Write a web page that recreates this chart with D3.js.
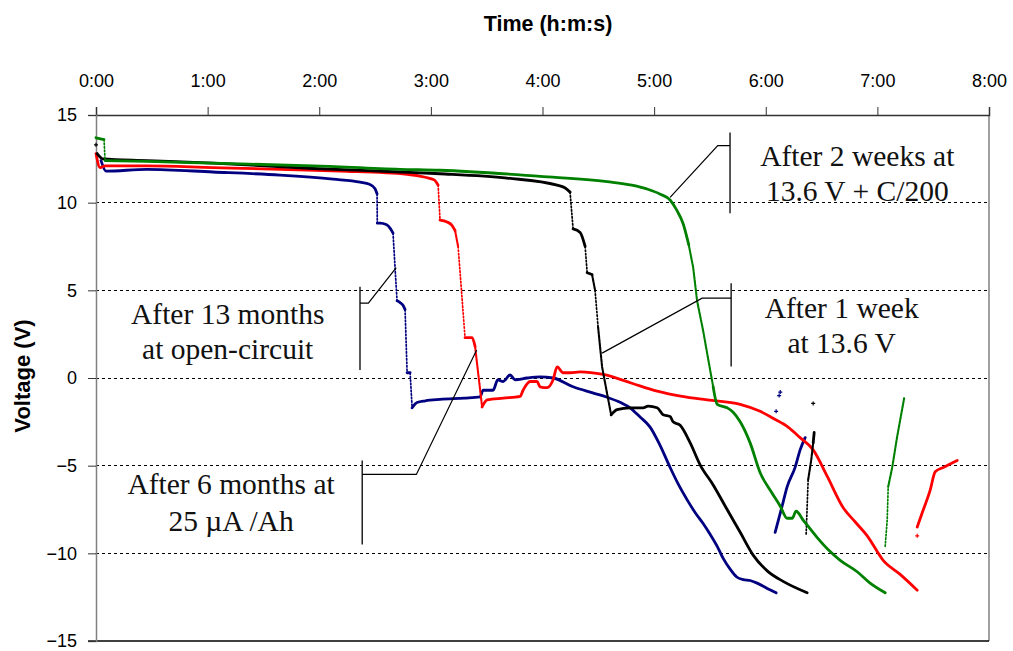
<!DOCTYPE html>
<html><head><meta charset="utf-8">
<script src="https://cdn.jsdelivr.net/npm/d3@7"></script>
<style>body{margin:0;background:#fff}svg{display:block}</style>
</head><body>
<script>
// ---- data (time in hours, voltage in V) ----
const xTicks = [0,1,2,3,4,5,6,7,8];
const xTickLabels = ["0:00","1:00","2:00","3:00","4:00","5:00","6:00","7:00","8:00"];
const yTicks = [-15,-10,-5,0,5,10,15];
const gridValues = [10,5,0,-5,-10];

const blueMain = [[0.045,12.4],[0.09,11.8],[0.457,11.9],[1.048,11.75],[1.649,11.57],[2.124,11.34],[2.366,11.17],[2.45,11.05],[2.5,10.8],[2.518,10.5],[2.52,8.83],[2.545,8.83],[2.6,8.75],[2.634,8.55],[2.661,8.26],[2.679,6.3],[2.697,4.4],[2.724,4.3],[2.75,4.15],[2.769,3.9],[2.787,0.3],[2.814,0.3],[2.832,-1.7],[2.876,-1.4],[2.95,-1.3],[3.082,-1.22],[3.3,-1.15],[3.441,-1.08],[3.468,-0.7],[3.557,-0.7],[3.6,-0.1],[3.647,-0.2],[3.71,0.17],[3.754,-0.1],[3.862,0],[3.978,0.06],[4.095,0.0],[4.274,-0.5],[4.45,-0.85],[4.579,-1.1],[4.7,-1.4],[4.785,-1.7],[4.87,-2.2],[4.964,-2.8],[5.05,-3.8],[5.143,-5.1],[5.22,-6.1],[5.296,-6.95],[5.37,-7.7],[5.439,-8.3],[5.5,-8.9],[5.565,-9.6],[5.62,-10.3],[5.681,-10.9],[5.74,-11.35],[5.798,-11.5],[5.86,-11.55],[5.923,-11.7],[6.013,-12.0],[6.093,-12.25]];
const blueTail = [[6.084,-8.8],[6.147,-7.3],[6.192,-6.2],[6.263,-5.1],[6.308,-4.1],[6.353,-3.4]];
const bluePoints = [[6.12,-1.0],[6.13,-0.8],[6.093,-1.9]];

const redMain = [[0,12.8],[0.036,12.0],[0.081,12.1],[0.457,12.1],[1.048,12.0],[1.649,11.9],[2.186,11.8],[2.787,11.62],[2.95,11.45],[3.03,11.3],[3.065,11.0],[3.082,9.0],[3.145,8.9],[3.19,8.7],[3.217,8.4],[3.244,7.5],[3.306,2.3],[3.369,2.3],[3.396,1.8],[3.459,-1.65],[3.504,-1.25],[3.65,-1.15],[3.799,-1.05],[3.826,-0.7],[3.889,-0.2],[3.952,-0.2],[3.978,-0.5],[4.041,-0.55],[4.095,-0.1],[4.131,0.63],[4.185,0.3],[4.247,0.3],[4.337,0.35],[4.543,0.2],[4.8,-0.3],[5.027,-0.75],[5.25,-1.05],[5.475,-1.25],[5.771,-1.5],[5.95,-1.9],[6.066,-2.3],[6.2,-2.8],[6.308,-3.4],[6.425,-4.1],[6.55,-5.6],[6.694,-7.4],[6.8,-8.2],[6.909,-9.0],[7.052,-10.4],[7.204,-11.2],[7.357,-12.1]];
const redTail = [[7.357,-8.5],[7.401,-7.7],[7.473,-6.4],[7.518,-5.35],[7.59,-5.1],[7.715,-4.7]];
const redPoints = [[7.357,-9.0]];

const blackMain = [[0.01,12.8],[0.063,12.5],[0.457,12.4],[1.048,12.25],[1.944,11.95],[2.724,11.75],[3.082,11.65],[3.683,11.4],[4.131,11.0],[4.2,10.85],[4.247,10.6],[4.274,8.5],[4.337,8.3],[4.382,7.5],[4.4,6.0],[4.444,5.9],[4.471,5.0],[4.498,2.9],[4.534,0.63],[4.579,-0.9],[4.615,-2.1],[4.668,-1.8],[4.785,-1.7],[4.901,-1.7],[4.946,-1.6],[5.027,-1.7],[5.081,-2.1],[5.143,-2.2],[5.17,-2.5],[5.233,-2.7],[5.323,-3.7],[5.412,-4.95],[5.529,-6.1],[5.654,-7.5],[5.771,-8.8],[5.887,-10.1],[6.013,-11.0],[6.156,-11.6],[6.371,-12.25]];
const blackTail = [[6.362,-8.9],[6.371,-7.3],[6.38,-5.8],[6.407,-4.7],[6.425,-3.7],[6.434,-3.1]];
const blackPoints = [[0,13.3],[6.425,-1.45]];

const greenMain = [[0,13.7],[0.072,13.6],[0.081,12.4],[0.457,12.35],[1.048,12.25],[1.944,12.1],[2.724,11.9],[3.082,11.85],[3.978,11.5],[4.579,11.2],[4.8,11.0],[4.95,10.75],[5.05,10.5],[5.143,10.15],[5.2,9.6],[5.26,8.8],[5.31,7.6],[5.35,6.3],[5.385,4.4],[5.439,2.7],[5.502,0.45],[5.529,-0.5],[5.565,-1.5],[5.654,-1.7],[5.708,-1.95],[5.771,-2.5],[5.86,-3.7],[5.95,-5.4],[6.05,-6.5],[6.129,-7.3],[6.192,-8.0],[6.237,-8.0],[6.272,-7.6],[6.335,-8.1],[6.461,-9.1],[6.577,-9.9],[6.667,-10.4],[6.819,-11.05],[6.935,-11.7],[7.07,-12.25]];
const greenTail = [[7.07,-9.6],[7.088,-8.1],[7.097,-6.2],[7.133,-5.1],[7.177,-3.35],[7.24,-1.15]];
const greenPoints = [];

const series = [
  {name:"After 13 months at open-circuit", color:"#000080", parts:[blueMain, blueTail], points:bluePoints},
  {name:"After 6 months at 25 µA/Ah", color:"#ff0000", parts:[redMain, redTail], points:redPoints},
  {name:"After 1 week at 13.6 V", color:"#000000", parts:[blackMain, blackTail], points:blackPoints},
  {name:"After 2 weeks at 13.6 V + C/200", color:"#008000", parts:[greenMain, greenTail], points:greenPoints}
];

// annotations: [time, volt] coordinates of bracket and leader
const annotations = [
  {lines:["After 2 weeks at","13.6 V + C/200"], tx:6.82, ty:[12.07,10.08],
   bar:[5.68,[14.0,9.4]], leader:[[5.68,13.25],[5.57,13.25],[5.143,10.3]]},
  {lines:["After 1 week","at 13.6 V"], tx:6.68, ty:[3.4,1.4],
   bar:[5.69,[5.4,0.65]], leader:[[5.69,4.55],[5.43,4.55],[4.534,1.42]]},
  {lines:["After 13 months","at open-circuit"], tx:1.18, ty:[3.1,1.1],
   bar:[2.365,[5.2,0.45]], leader:[[2.365,4.27],[2.44,4.27],[2.69,6.3]]},
  {lines:["After 6 months at","25 µA /Ah"], tx:1.21, ty:[-6.6,-8.75],
   bar:[2.385,[-4.7,-9.5]], leader:[[2.385,-5.5],[2.87,-5.5],[3.41,1.6]]}
];

// ---- layout ----
const W = 1013, H = 651;
const x = d3.scaleLinear().domain([0,8]).range([96,989]);
const y = d3.scaleLinear().domain([-15,15]).range([641,115]);

const svg = d3.select("body").append("svg").attr("width",W).attr("height",H);

// grid
svg.append("g").selectAll("line").data(gridValues).join("line")
  .attr("x1",x(0)).attr("x2",x(8)).attr("y1",d=>y(d)).attr("y2",d=>y(d))
  .attr("stroke","#000").attr("stroke-width",1).attr("stroke-dasharray","3,3")
  .attr("shape-rendering","crispEdges");

// right border
svg.append("line").attr("x1",x(8)).attr("x2",x(8)).attr("y1",y(15)).attr("y2",y(-15))
  .attr("stroke","#808080").attr("stroke-width",1.5);
// bottom line
svg.append("line").attr("x1",x(0)-8).attr("x2",x(8)).attr("y1",y(-15)).attr("y2",y(-15))
  .attr("stroke","#000").attr("stroke-width",1.5);

// axes
const xAxis = svg.append("g").attr("transform",`translate(0,${y(15)})`)
  .call(d3.axisTop(x).tickValues(xTicks).tickFormat((d,i)=>xTickLabels[i]).tickSize(8).tickPadding(20));
xAxis.select(".domain").attr("stroke","#333").attr("stroke-width",1.5);
xAxis.selectAll(".tick line").attr("stroke","#333");
xAxis.selectAll("text").attr("font-family","Liberation Sans, Arial, sans-serif").attr("font-size",18).attr("fill","#000");

const yAxis = svg.append("g").attr("transform",`translate(${x(0)},0)`)
  .call(d3.axisLeft(y).tickValues(yTicks).tickSize(8).tickPadding(11).tickFormat(d3.format("d")));
yAxis.select(".domain").attr("stroke","#808080").attr("stroke-width",1.5);
yAxis.selectAll(".tick line").attr("stroke","#333");
yAxis.selectAll("text").attr("font-family","Liberation Sans, Arial, sans-serif").attr("font-size",18).attr("fill","#000");

// titles
svg.append("text").attr("x",548).attr("y",31).attr("text-anchor","middle")
  .attr("font-family","Liberation Sans, Arial, sans-serif").attr("font-weight","bold").attr("font-size",21.5)
  .text("Time (h:m:s)");
svg.append("text").attr("transform",`translate(30,${y(0)-2}) rotate(-90)`).attr("text-anchor","middle")
  .attr("font-family","Liberation Sans, Arial, sans-serif").attr("font-weight","bold").attr("font-size",22)
  .text("Voltage (V)");

// series
const lineSmooth = d3.line().x(d=>x(d[0])).y(d=>y(d[1])).curve(d3.curveMonotoneX);
const lineStraight = d3.line().x(d=>x(d[0])).y(d=>y(d[1]));
series.forEach(s=>{
  const g = svg.append("g");
  s.parts.forEach(p=>{
    // group consecutive segments into runs by steepness:
    // 0 = normal, 1 = steep (dense markers, thinner), 2 = very steep (sparse markers, dotted)
    const runs = [];
    for(let i=0;i<p.length-1;i++){
      const a=p[i], b=p[i+1];
      const dx=Math.abs(x(b[0])-x(a[0])), dy=Math.abs(y(b[1])-y(a[1]));
      const r = dy/Math.max(dx,0.1);
      const kind = (dy > 14 && r > 10) ? 2 : (dy > 14 && r > 4.5) ? 1 : 0;
      const last = runs[runs.length-1];
      if(last && last.kind===kind){ last.pts.push(b); }
      else runs.push({kind, pts:[a,b]});
    }
    runs.forEach(r=>{
      g.append("path").attr("d",(r.kind?lineStraight:lineSmooth)(r.pts)).attr("fill","none")
        .attr("stroke",s.color).attr("stroke-linecap","round").attr("stroke-linejoin","round")
        .attr("stroke-width",r.kind===2?1.7:(r.kind===1?2.1:2.8))
        .attr("stroke-dasharray",r.kind===2?"1.5,2":(r.kind===1?"3,1":null));
    });
  });
  g.selectAll("path.pt").data(s.points).join("path").attr("class","pt")
    .attr("d",d=>`M${x(d[0])-2},${y(d[1])}h4M${x(d[0])},${y(d[1])-2}v4`)
    .attr("stroke",s.color).attr("stroke-width",1.2);
});

// annotations
annotations.forEach(a=>{
  const g = svg.append("g");
  g.append("line").attr("x1",x(a.bar[0])).attr("x2",x(a.bar[0]))
    .attr("y1",y(a.bar[1][0])).attr("y2",y(a.bar[1][1]))
    .attr("stroke","#222").attr("stroke-width",1.5);
  g.append("path").attr("d",lineStraight(a.leader)).attr("fill","none").attr("stroke","#000").attr("stroke-width",1.2);
  a.lines.forEach((t,i)=>{
    g.append("text").attr("x",x(a.tx)).attr("y",y(a.ty[i])).attr("text-anchor","middle")
      .attr("font-family","Liberation Serif, Times New Roman, serif").attr("font-size",29.5)
      .attr("fill","#111").text(t);
  });
});
</script>
</body></html>
